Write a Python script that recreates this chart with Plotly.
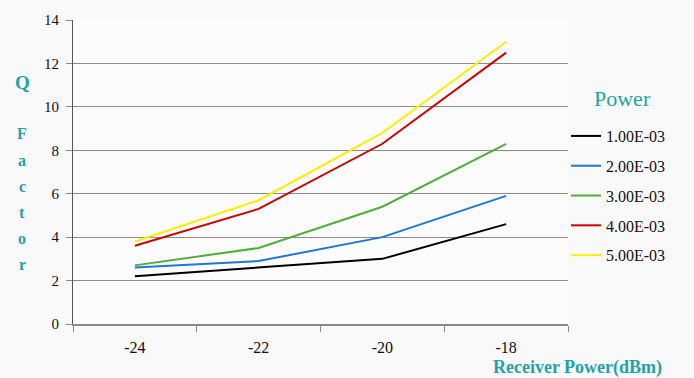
import plotly.graph_objects as go

# Receiver power categories (dBm)
receiver_power = ["-24", "-22", "-20", "-18"]

# Q factor for each transmit power setting
q_1e3 = [2.2, 2.6, 3.0, 4.6]
q_2e3 = [2.6, 2.9, 4.0, 5.9]
q_3e3 = [2.7, 3.5, 5.4, 8.3]
q_4e3 = [3.6, 5.3, 8.3, 12.5]
q_5e3 = [3.8, 5.7, 8.8, 13.0]

series_names = ["1.00E-03", "2.00E-03", "3.00E-03", "4.00E-03", "5.00E-03"]
series_values = [q_1e3, q_2e3, q_3e3, q_4e3, q_5e3]
series_colors = ["#000000", "#1F77D0", "#4EAE3A", "#CC0000", "#FFEE00"]

y_ticks = [0, 2, 4, 6, 8, 10, 12, 14]

teal = "#1FA3A8"
serif = "Liberation Serif, DejaVu Serif, serif"

# Plot area in pixels
L, R, T, B = 73, 126, 17, 54
W, H = 694, 378
plot_w = W - L - R
plot_h = H - T - B


def px_x(px):
    return (px - L) / plot_w


def px_y(py):
    return (H - B - py) / plot_h


fig = go.Figure()
for name, vals, col in zip(series_names, series_values, series_colors):
    fig.add_trace(go.Scatter(
        x=receiver_power, y=vals, name=name, mode="lines",
        legendgroup=name,
        line=dict(color=col, width=2),
    ))

annotations = [
    dict(text="Power", x=px_x(622), y=px_y(96), xref="paper", yref="paper",
         xanchor="center", yanchor="middle", showarrow=False,
         font=dict(family=serif, size=22, color=teal)),
    dict(text="<b>Receiver Power(dBm)</b>", x=px_x(577), y=px_y(368),
         xref="paper", yref="paper", xanchor="center", yanchor="middle",
         showarrow=False, font=dict(family=serif, size=18, color=teal)),
    dict(text="<b>Q</b>", x=px_x(22), y=px_y(80), xref="paper", yref="paper",
         xanchor="center", yanchor="middle", showarrow=False,
         font=dict(family=serif, size=19, color=teal)),
]
# Vertical axis title, one letter per line
for i, ch in enumerate("Factor"):
    annotations.append(dict(
        text=f"<b>{ch}</b>", x=px_x(22), y=px_y(132 + 26.4 * i),
        xref="paper", yref="paper", xanchor="center", yanchor="middle",
        showarrow=False, font=dict(family=serif, size=16, color=teal)))

fig.update_layout(
    width=W, height=H,
    margin=dict(l=L, r=R, t=T, b=B),
    paper_bgcolor="#f9f9f9",
    plot_bgcolor="#fcfcfc",
    font=dict(family=serif, size=15, color="#111111"),
    showlegend=True,
    legend=dict(
        x=px_x(566), xanchor="left", y=px_y(117), yanchor="top",
        bgcolor="rgba(0,0,0,0)",
        font=dict(family=serif, size=16, color="#111111"),
        itemwidth=30, tracegroupgap=6,
    ),
    xaxis=dict(
        type="category", range=[-0.5, 3.5],
        showline=True, linecolor="#8a8a8a", linewidth=1.5,
        ticks="outside", tickson="boundaries", ticklen=6, tickcolor="#8a8a8a",
        showgrid=False, tickfont=dict(size=16), zeroline=False,
        ticklabelstandoff=8,
    ),
    yaxis=dict(
        range=[0, 14], tickvals=y_ticks,
        showline=True, linecolor="#555555", linewidth=1,
        ticks="outside", ticklen=6, tickcolor="#8a8a8a",
        showgrid=True, gridcolor="#8a8a8a", gridwidth=1.2,
        tickfont=dict(size=15), zeroline=False,
        ticklabelstandoff=4,
    ),
    annotations=annotations,
)

fig.write_html("out.html")
